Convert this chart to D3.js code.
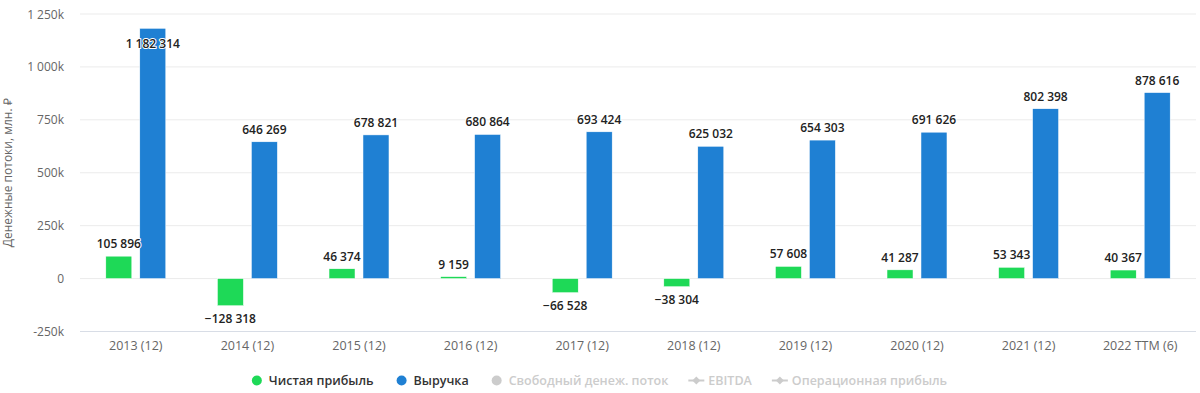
<!DOCTYPE html>
<html><head><meta charset="utf-8">
<script src="https://cdn.jsdelivr.net/npm/d3@7/dist/d3.min.js"></script>
<style>
body{margin:0;background:#fff;}
svg{display:block;font-family:"Open Sans",sans-serif;}
</style></head>
<body><svg id="c" width="1200" height="393"></svg>
<script>
const categories = ["2013 (12)","2014 (12)","2015 (12)","2016 (12)","2017 (12)","2018 (12)","2019 (12)","2020 (12)","2021 (12)","2022 TTM (6)"];
const netProfit = [105896,-128318,46374,9159,-66528,-38304,57608,41287,53343,40367];
const revenue = [1182314,646269,678821,680864,693424,625032,654303,691626,802398,878616];
const tickValues = [-250000,0,250000,500000,750000,1000000,1250000];
const tickLabels = ["-250k","0","250k","500k","750k","1 000k","1 250k"];
const seriesNames = ["Чистая прибыль","Выручка"];
const legendItems = ["Чистая прибыль","Выручка","Свободный денеж. поток","EBITDA","Операционная прибыль"];
const yTitle = "Денежные потоки, млн. ₽";

const svg = d3.select("#c");
const L=80, R=1196, T=14, B=331.5;
const colors = {"Чистая прибыль":"#1ed957","Выручка":"#1f80d3"};
const x = d3.scaleBand().domain(categories).range([L,R]);
const xi = d3.scaleBand().domain(seriesNames).range([0,x.bandwidth()]).paddingInner(0.235).paddingOuter(0.76);
const y = d3.scaleLinear().domain([-250000,1250000]).range([B,T]);

// grid
svg.append("g").selectAll("line").data(tickValues).join("line")
  .attr("x1",L).attr("x2",R).attr("y1",d=>y(d)).attr("y2",d=>y(d))
  .attr("stroke",d=>d===-250000?"#d8dde6":"#ebebeb").attr("stroke-width",1);

// y labels
svg.append("g").selectAll("text").data(tickValues).join("text")
  .attr("x",64).attr("y",d=>y(d)+4.5).attr("text-anchor","end")
  .attr("font-size",12).attr("fill","#666").text((d,i)=>tickLabels[i]);

svg.append("text").attr("transform",`translate(12,${(T+B)/2}) rotate(-90)`)
  .attr("text-anchor","middle").attr("font-size",12).attr("fill","#666").text(yTitle);

// x labels
svg.append("g").selectAll("text").data(categories).join("text")
  .attr("x",d=>x(d)+x.bandwidth()/2).attr("y",350).attr("text-anchor","middle")
  .attr("font-size",12.5).attr("fill","#666").text(d=>d);

const fmt = v => (v<0?"\u2212":"") + d3.format(",")(Math.abs(v)).replace(/,/g," ");

const data = [];
categories.forEach((c,i)=>{
  data.push({c, s:"Чистая прибыль", v:netProfit[i]});
  data.push({c, s:"Выручка", v:revenue[i]});
});
const g = svg.append("g");
g.selectAll("rect").data(data).join("rect")
  .attr("x",d=>x(d.c)+xi(d.s)).attr("width",xi.bandwidth())
  .attr("y",d=>y(Math.max(0,d.v))).attr("height",d=>Math.abs(y(d.v)-y(0)))
  .attr("fill",d=>colors[d.s]).attr("stroke","#fff").attr("stroke-width",0.5);

g.selectAll("text").data(data).join("text")
  .attr("x",d=>x(d.c)+xi(d.s)+xi.bandwidth()/2)
  .attr("y",d=>{
    if(d.v<0) return y(d.v)+17;
    const t=y(d.v);
    if(t-22<T) return t+20;
    return t-8;
  })
  .attr("text-anchor","middle").attr("font-size",12).attr("font-weight",600)
  .attr("fill","#222").attr("stroke","#fff").attr("stroke-width",2).attr("paint-order","stroke")
  .attr("stroke-linejoin","round")
  .text(d=>fmt(d.v));

// legend: laid out sequentially, centered
const lg = svg.append("g").attr("font-size",12.5).attr("font-weight",600);
const items = legendItems.map((name,i)=>{
  const active = i<2;
  const col = active?colors[name]:"#cccccc";
  const it = lg.append("g");
  const t = it.append("text").attr("y",385).attr("fill",active?"#333":"#cccccc").text(name);
  const w = t.node().getComputedTextLength();
  return {it,t,w,i,col};
});
const symW = 16, symGap = 4, itemGap = 20;
const total = d3.sum(items,d=>symW+symGap+d.w) + itemGap*(items.length-1);
let cx = 598 - total/2;
items.forEach(d=>{
  const sc = cx + symW/2;
  if(d.i<3){
    d.it.append("circle").attr("cx",sc).attr("cy",380.5).attr("r",5).attr("fill",d.col);
  } else {
    d.it.append("line").attr("x1",sc-8).attr("x2",sc+8).attr("y1",380.5).attr("y2",380.5).attr("stroke",d.col).attr("stroke-width",2);
    d.it.append("path").attr("d",`M${sc},376.5 L${sc+4},380.5 L${sc},384.5 L${sc-4},380.5Z`).attr("fill",d.col);
  }
  d.t.attr("x",cx+symW+symGap);
  cx += symW+symGap+d.w+itemGap;
});
</script></body></html>
